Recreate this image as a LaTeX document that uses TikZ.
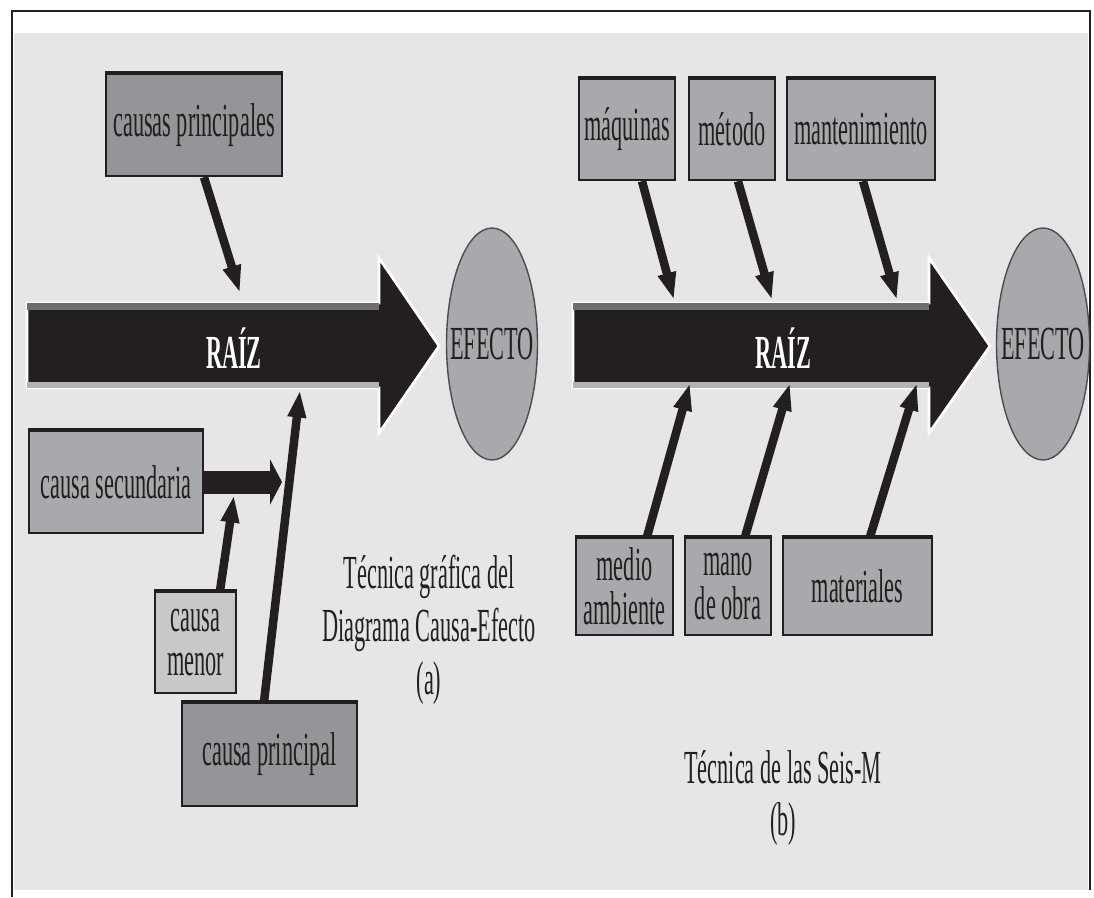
\documentclass[tikz,border=0pt]{standalone}
\usepackage{fontspec}
\setmainfont{Liberation Serif}[FakeStretch=0.47]
\usetikzlibrary{arrows.meta,shapes.geometric}
\definecolor{ink}{HTML}{231F20}
\definecolor{fondo}{HTML}{E6E6E7}
\definecolor{grisosc}{HTML}{939598}
\definecolor{grismed}{HTML}{A7A9AC}
\definecolor{grisclaro}{HTML}{C7C8CA}
\definecolor{franja}{HTML}{6D6E71}
\definecolor{franjaclara}{HTML}{B1B3B6}
\tikzset{caja/.style = {draw = ink, line width = 1.4pt, inner sep = 0pt, align = center, text = ink, font = \fontsize{27}{25}\selectfont,
    append after command = {(\tikzlastnode.north west) edge [draw = ink, line width = 2.6pt] (\tikzlastnode.north east)}}}
\tikzset{espina/.style = {draw = ink, line width = 0.17cm, -{Triangle[length = 0.55cm, width = 0.34cm]}}}
\tikzset{secundaria/.style = {draw = ink, line width = 0.46cm, -{Triangle[length = 0.24cm, width = 0.9cm]}}}
\tikzset{efecto/.style = {ellipse, draw = black!70, line width = 0.8pt, fill = grismed, inner sep = 0pt, text = ink, font = \fontsize{27}{29}\selectfont}}
\tikzset{raiz/.style = {text = white, font = \fontsize{27}{29}\selectfont\bfseries}}
\tikzset{titulo/.style = {align = center, text = ink, font = \fontsize{27}{30}\selectfont}}

\begin{document}
\begin{tikzpicture}[x = 0.02cm, y = -0.02cm]

  \useasboundingbox (0 , 0) rectangle (1094 , 897);
  \fill [fondo] (14 , 33) rectangle (1088 , 890);
  \draw [line width = 1.2pt, ink] (12 , 897) -- (12 , 11) -- (1090 , 11) -- (1090 , 890);

  % (a) diagrama causa-efecto
  \filldraw [draw = white, line width = 1.5pt, fill = ink] (27 , 303) -- (379 , 303) -- (379 , 258) -- (439 , 346) -- (379 , 433) -- (379 , 388) -- (27 , 388) -- cycle;
  \fill [franja] (27 , 303) rectangle (379 , 310);
  \fill [franjaclara] (27 , 382) rectangle (379 , 388);
  \node [raiz] (raiz1) at (234 , 348) {RAÍZ};

  \node [efecto, minimum width = 1.82cm, minimum height = 4.64cm] (ef1) at (492 , 344) {\makebox[0pt]{EFECTO}};

  \node [caja, fill = grisosc, minimum width = 3.52cm, minimum height = 2.04cm] (cp) at (194 , 125) {causas principales};
  \node [caja, fill = grismed, minimum width = 3.48cm, minimum height = 2.04cm] (cs) at (116 , 482) {causa secundaria};
  \node [caja, fill = grisclaro, minimum width = 1.62cm, minimum height = 2.02cm] (cme) at (195.5 , 642.5) {causa\\menor};
  \node [caja, fill = grisosc, minimum width = 3.5cm, minimum height = 2.06cm] (cpl) at (269.5 , 754.5) {causa principal};

  \coordinate (pa1) at (240 , 293);
  \coordinate (pa2) at (282 , 482);
  \coordinate (pa3) at (234 , 495);
  \coordinate (pa4) at (300 , 390);

  \draw [espina] ([xshift = 0.2cm] cp.south) -- (pa1);
  \draw [secundaria] (cs.east) -- (pa2);
  \draw [espina] ([xshift = 0.49cm] cme.north) -- (pa3);
  \draw [espina] ([xshift = -0.11cm] cpl.north) -- (pa4);

  \node [titulo] (tit1) at (429 , 630) {Técnica gráfica del\\Diagrama Causa-Efecto\\(a)};

  % (b) seis-M
  \filldraw [draw = white, line width = 1.5pt, fill = ink] (573 , 303) -- (929 , 303) -- (929 , 258) -- (990 , 346) -- (929 , 433) -- (929 , 388) -- (573 , 388) -- cycle;
  \fill [franja] (573 , 303) rectangle (929 , 310);
  \fill [franjaclara] (573 , 382) rectangle (929 , 388);
  \node [raiz] (raiz2) at (783 , 348) {RAÍZ};

  \node [efecto, minimum width = 1.86cm, minimum height = 4.64cm] (ef2) at (1043 , 344) {\makebox[0pt]{EFECTO}};

  \node [caja, fill = grismed, minimum width = 1.92cm, minimum height = 2.02cm] (maq) at (627 , 129.5) {máquinas};
  \node [caja, fill = grismed, minimum width = 1.72cm, minimum height = 2.02cm] (met) at (732 , 129.5) {método};
  \node [caja, fill = grismed, minimum width = 2.96cm, minimum height = 2.02cm] (man) at (861 , 129.5) {mantenimiento};
  \node [caja, fill = grismed, minimum width = 1.94cm, minimum height = 1.94cm] (med) at (624.5 , 586.5) {medio\\ambiente};
  \node [caja, fill = grismed, minimum width = 1.72cm, minimum height = 1.94cm] (mob) at (728 , 586.5) {mano\\de obra};
  \node [caja, fill = grismed, minimum width = 2.98cm, minimum height = 1.94cm] (mat) at (857.5 , 586.5) {materiales};

  \coordinate (pb1) at (674 , 300);
  \coordinate (pb2) at (772 , 300);
  \coordinate (pb3) at (897 , 300);
  \coordinate (pb4) at (690 , 383);
  \coordinate (pb5) at (790 , 383);
  \coordinate (pb6) at (917 , 383);

  \draw [espina] ([xshift = 0.3cm] maq.south) -- (pb1);
  \draw [espina] ([xshift = 0.12cm] met.south) -- (pb2);
  \draw [espina] ([xshift = 0.04cm] man.south) -- (pb3);
  \draw [espina] ([xshift = 0.45cm] med.north) -- (pb4);
  \draw [espina] ([xshift = 0.34cm] mob.north) -- (pb5);
  \draw [espina] ([xshift = 0.25cm] mat.north) -- (pb6);

  \node [titulo] (tit2) at (783 , 798) {Técnica de las Seis-M\\(b)};

\end{tikzpicture}
\end{document}
